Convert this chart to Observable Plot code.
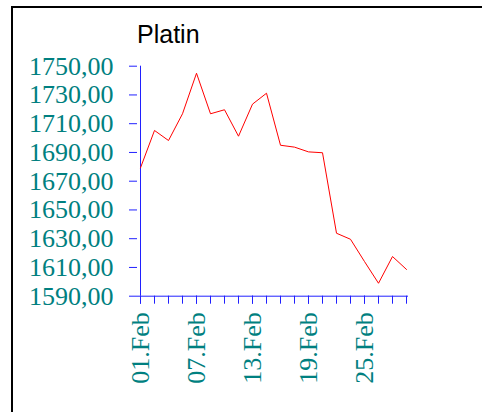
<!DOCTYPE html>
<html>
<head>
<meta charset="utf-8">
<script src="https://cdn.jsdelivr.net/npm/d3@7"></script>
<script src="https://cdn.jsdelivr.net/npm/@observablehq/plot@0.6"></script>
<style>
  html, body { margin: 0; padding: 0; background: #fff; }
  #wrap { position: relative; width: 482px; height: 412px; overflow: hidden; }
  #frame { position: absolute; left: 11px; top: 6px; width: 700px; height: 700px; border: 2px solid #000; box-sizing: border-box; }
  #title { position: absolute; left: 137px; top: 21.5px; font-family: "Liberation Sans", Arial, sans-serif; font-size: 25px; line-height: 25px; color: #000; }
  #chart { position: absolute; left: 0; top: 50px; }
</style>
</head>
<body>
<div id="wrap">
  <div id="frame"></div>
  <div id="title">Platin</div>
  <div id="chart"></div>
</div>
<script>
const dates = [
  "2013-02-01","2013-02-04","2013-02-05","2013-02-06","2013-02-07",
  "2013-02-08","2013-02-11","2013-02-12","2013-02-13","2013-02-14",
  "2013-02-15","2013-02-18","2013-02-19","2013-02-20","2013-02-21",
  "2013-02-22","2013-02-25","2013-02-26","2013-02-27","2013-02-28"
];
const prices = [
  1679.3, 1705.3, 1698.3, 1716.9, 1745.1,
  1716.9, 1719.7, 1701.3, 1723.6, 1731.2,
  1695.0, 1693.7, 1690.4, 1689.8, 1633.8,
  1629.6, 1614.1, 1599.0, 1617.6, 1608.6
];
const yTicks = [1590, 1610, 1630, 1650, 1670, 1690, 1710, 1730, 1750];
const xLabelDates = ["2013-02-01", "2013-02-07", "2013-02-13", "2013-02-19", "2013-02-25"];

const data = dates.map((d, i) => ({date: d, price: prices[i]}));
const parse = d3.utcParse("%Y-%m-%d");
const fmtDate = d => d3.utcFormat("%d.%b")(parse(d));
const fmtNum = v => v.toFixed(2).replace(".", ",");

const axisBlue = "#2020ff";
const teal = "#008080";

const chart = Plot.plot({
  width: 482,
  height: 362,
  marginLeft: 137,
  marginRight: 74,
  marginTop: 15.7,
  marginBottom: 116.3,
  style: {fontFamily: "'Liberation Serif', 'Times New Roman', serif", fontSize: "26px", background: "transparent"},
  x: {type: "point", domain: dates, padding: 0, axis: null, label: null},
  y: {domain: [1590, 1750], axis: null, label: null},
  marks: [
    Plot.ruleX([dates[0]], {y1: 1590, y2: 1750, stroke: axisBlue}),
    Plot.ruleY([1590], {stroke: axisBlue}),
    Plot.axisY(yTicks, {label: null, tickSize: 8, tickPadding: 16, stroke: axisBlue, fill: teal, tickFormat: fmtNum}),
    Plot.axisX(dates, {label: null, tickSize: 8, stroke: axisBlue, tickFormat: () => ""}),
    Plot.axisX(xLabelDates, {label: null, tickSize: 8, tickPadding: 8, tickRotate: -90, stroke: axisBlue, fill: teal, tickFormat: fmtDate}),
    Plot.line(data, {x: "date", y: "price", stroke: "#ff0000", strokeWidth: 1})
  ]
});
document.getElementById("chart").appendChild(chart);
</script>
</body>
</html>
